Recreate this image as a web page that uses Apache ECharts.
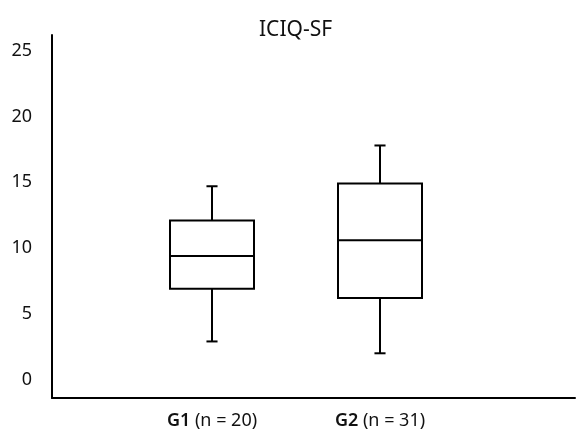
<!DOCTYPE html>
<html>
<head>
<meta charset="utf-8">
<script src="https://cdn.jsdelivr.net/npm/echarts@6/dist/echarts.min.js"></script>
<style>
html,body{margin:0;padding:0;background:#fff;}
#chart{width:577px;height:431px;}
</style>
</head>
<body>
<div id="chart"></div>
<script>
// Data
const groups = ['G1', 'G2'];
const groupN = [20, 31];
// [min, Q1, median, Q3, max]
const g1Stats = [2.9, 6.9, 9.4, 12.1, 14.7];
const g2Stats = [2.0, 6.2, 10.6, 14.9, 17.8];
const yTickValues = [0, 5, 10, 15, 20, 25];
const titleText = 'ICIQ-SF';

const stats = [g1Stats, g2Stats];
const FONT = '"Noto Sans", Lato, sans-serif';
const yMin = -1.4, yMax = 26.2;

const chart = echarts.init(document.getElementById('chart'), null, {renderer: 'canvas'});

const boxData = stats.map((s, i) => [i].concat(s));

chart.setOption({
  backgroundColor: '#fff',
  animation: false,
  title: {
    text: titleText,
    left: 254,
    top: 15,
    textStyle: {fontFamily: FONT, fontSize: 21, fontWeight: 'normal', color: '#111'}
  },
  grid: [
    {left: 52, right: 2, top: 35, bottom: 33},
    {left: 128, width: 336, top: 35, bottom: 33}
  ],
  xAxis: [
    {
      gridIndex: 0, type: 'value', min: 0, max: 1,
      axisLine: {show: true, onZero: false, lineStyle: {color: '#000', width: 2}},
      axisTick: {show: false}, axisLabel: {show: false}, splitLine: {show: false}
    },
    {
      gridIndex: 1, type: 'category', data: groups,
      axisLine: {show: false}, axisTick: {show: false}, splitLine: {show: false},
      axisLabel: {
        margin: 14,
        formatter: (v, idx) => '{b|' + v + '}{n| (n = ' + groupN[idx] + ')}',
        rich: {
          b: {fontFamily: FONT, fontSize: 18, fontWeight: 600, color: '#111'},
          n: {fontFamily: FONT, fontSize: 18, color: '#111'}
        }
      }
    }
  ],
  yAxis: [
    {
      gridIndex: 0, type: 'value', min: yMin, max: yMax,
      axisLine: {show: true, lineStyle: {color: '#000', width: 2}},
      axisTick: {show: false}, splitLine: {show: false},
      axisLabel: {
        customValues: yTickValues,
        margin: 20,
        fontFamily: FONT, fontSize: 18, color: '#111'
      }
    },
    {
      gridIndex: 1, type: 'value', min: yMin, max: yMax, show: false
    }
  ],
  series: [{
    type: 'custom',
    xAxisIndex: 1,
    yAxisIndex: 1,
    data: boxData,
    encode: {x: 0, y: [1, 2, 3, 4, 5]},
    renderItem: function (params, api) {
      const idx = api.value(0);
      const p = [1, 2, 3, 4, 5].map(d => api.coord([idx, api.value(d)]));
      const cx = p[0][0];
      const band = api.size([1, 0])[0];
      const hw = band * 0.25;
      const cap = band * 0.033;
      const style = {stroke: '#000', lineWidth: 2, fill: null};
      return {
        type: 'group',
        children: [
          {type: 'line', shape: {x1: cx, y1: p[0][1], x2: cx, y2: p[1][1]}, style},
          {type: 'line', shape: {x1: cx, y1: p[3][1], x2: cx, y2: p[4][1]}, style},
          {type: 'line', shape: {x1: cx - cap, y1: p[0][1], x2: cx + cap, y2: p[0][1]}, style},
          {type: 'line', shape: {x1: cx - cap, y1: p[4][1], x2: cx + cap, y2: p[4][1]}, style},
          {type: 'rect', shape: {x: cx - hw, y: p[3][1], width: hw * 2, height: p[1][1] - p[3][1]}, style: {stroke: '#000', lineWidth: 2, fill: '#fff'}},
          {type: 'line', shape: {x1: cx - hw, y1: p[2][1], x2: cx + hw, y2: p[2][1]}, style}
        ]
      };
    }
  }]
});
</script>
</body>
</html>
